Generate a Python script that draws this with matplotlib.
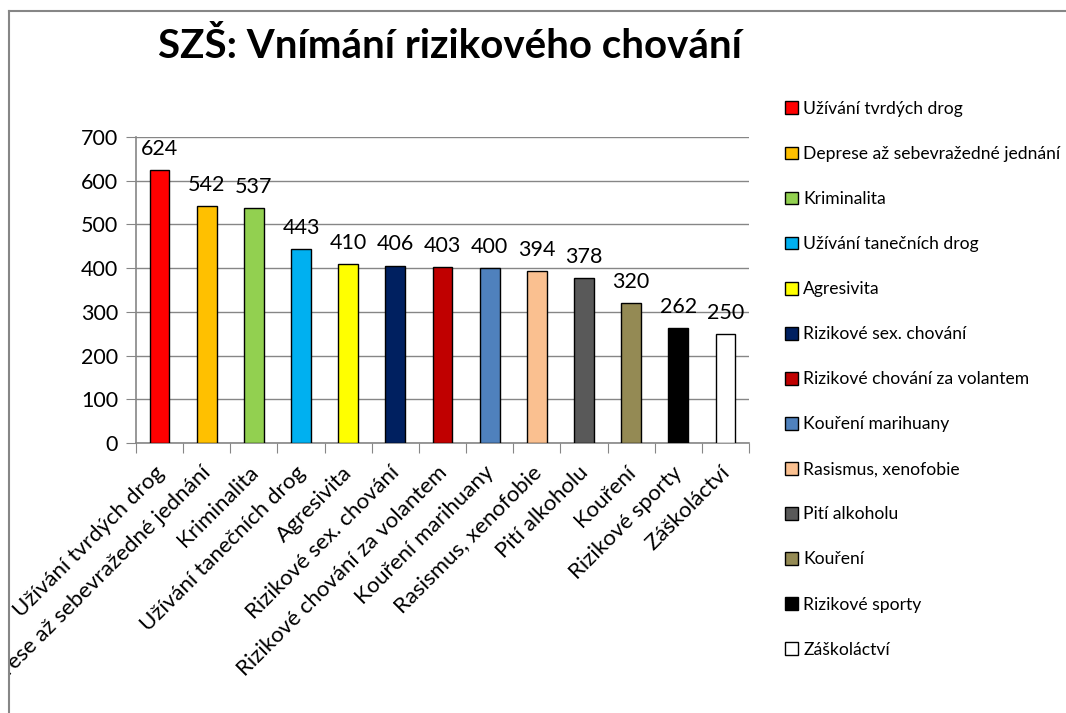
import matplotlib
matplotlib.use("Agg")
import matplotlib.pyplot as plt
from matplotlib.lines import Line2D
from matplotlib.transforms import Bbox, TransformedBbox, ScaledTranslation

plt.rcParams['font.family'] = ['Lato', 'DejaVu Sans']

kategorie = ["Užívání tvrdých drog", "Deprese až sebevražedné jednání", "Kriminalita",
             "Užívání tanečních drog", "Agresivita", "Rizikové sex. chování",
             "Rizikové chování za volantem", "Kouření marihuany", "Rasismus, xenofobie",
             "Pití alkoholu", "Kouření", "Rizikové sporty", "Záškoláctví"]
hodnoty = [624, 542, 537, 443, 410, 406, 403, 400, 394, 378, 320, 262, 250]
barvy = ["#FF0000", "#FFC000", "#92D050", "#00B0F0", "#FFFF00", "#002060", "#C00000",
         "#4F81BD", "#FAC090", "#595959", "#948A54", "#000000", "#FFFFFF"]
yticky = [0, 100, 200, 300, 400, 500, 600, 700]

W, H = 1066, 713
fig = plt.figure(figsize=(W / 100, H / 100), dpi=100)
ax = fig.add_axes([136 / W, 1 - 443 / H, (749 - 136) / W, (443 - 137) / H])

seda = "#868686"
x = list(range(len(kategorie)))
bars = ax.bar(x, hodnoty, width=0.42, color=barvy, edgecolor="black", linewidth=1.0,
              zorder=3)
for b, lab in zip(bars, kategorie):
    b.set_label(lab)

for xi, v in zip(x, hodnoty):
    ax.annotate(str(v), (xi, v), xytext=(0, 8), textcoords="offset points",
                ha="center", va="bottom", fontsize=15.5, zorder=4)

ax.set_xlim(-0.5, len(kategorie) - 0.5)
ax.set_ylim(0, 700)
ax.set_yticks(yticky)
ax.yaxis.grid(True, color=seda, linewidth=1.0, zorder=0)
ax.set_axisbelow(True)
for s in ["top", "right"]:
    ax.spines[s].set_visible(False)
for s in ["left", "bottom"]:
    ax.spines[s].set_color(seda)
    ax.spines[s].set_linewidth(1.2)
ax.tick_params(axis="y", length=7, color=seda, labelsize=15.5, pad=6)

# carky mezi kategoriemi, popisky uprostred
ax.set_xticks([i - 0.5 for i in range(len(kategorie) + 1)])
ax.set_xticklabels([])
ax.tick_params(axis="x", which="major", length=7, color=seda)
ax.set_xticks(x, minor=True)
ax.set_xticklabels(kategorie, minor=True, rotation=45, ha="right",
                   rotation_mode="anchor", fontsize=16)
ax.tick_params(axis="x", which="minor", length=0, pad=14)

clip = TransformedBbox(Bbox.from_extents(9.5 / W, 0, 1, 1), fig.transFigure)
posun = ScaledTranslation(-6 / 100, 0, fig.dpi_scale_trans)
for t in ax.get_xticklabels(minor=True):
    t.set_transform(t.get_transform() + posun)
    t.set_clip_box(clip)
    t.set_clip_on(True)

fig.text(450 / W, 1 - 47 / H, "SZŠ: Vnímání rizikového chování", ha="center",
         va="center", fontsize=29, fontweight="bold")

leg = ax.legend(handles=list(bars), loc="upper left", bbox_to_anchor=(785 / W, 1 - 101 / H),
                bbox_transform=fig.transFigure, frameon=False, fontsize=12.6,
                labelspacing=1.66, handlelength=0.75, handleheight=0.75,
                handletextpad=0.3, borderaxespad=0, borderpad=0)

fig.add_artist(Line2D([8.5 / W, 1.0], [1 - 11 / H, 1 - 11 / H], transform=fig.transFigure,
                      color=seda, linewidth=1.5))
fig.add_artist(Line2D([8.5 / W, 8.5 / W], [0.0, 1 - 11 / H], transform=fig.transFigure,
                      color=seda, linewidth=1.5))

fig.savefig("out.png", dpi=100)
